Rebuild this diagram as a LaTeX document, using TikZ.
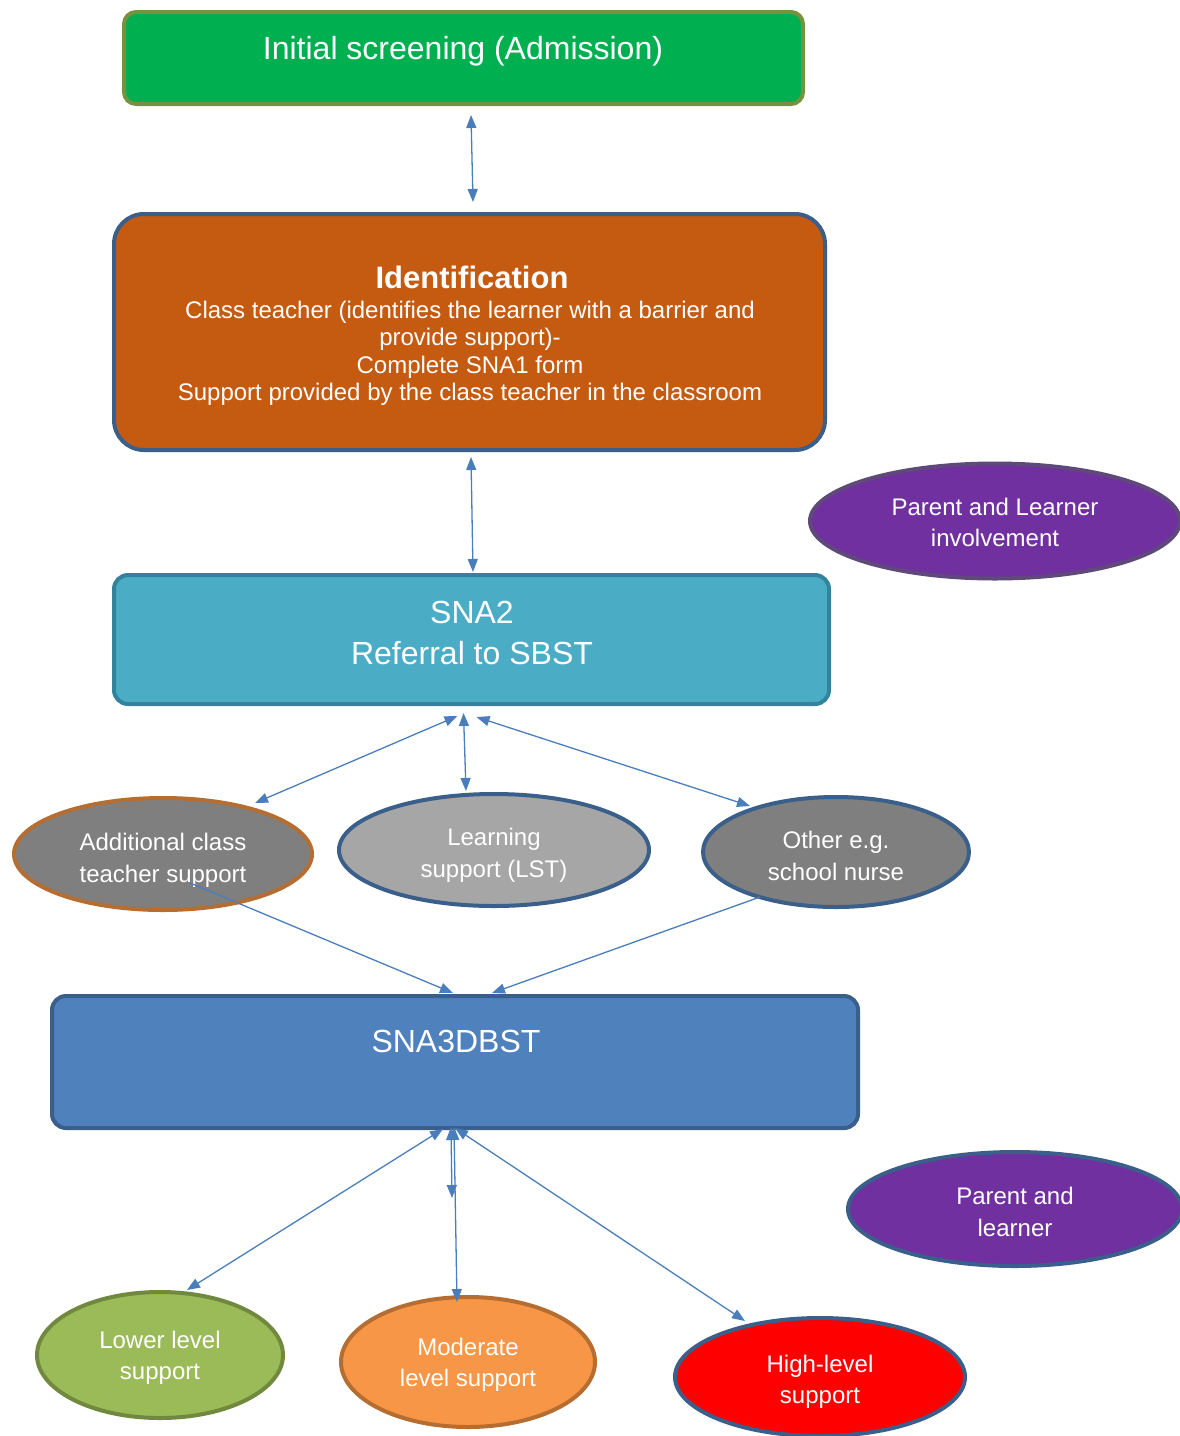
\documentclass[tikz,border=0pt]{standalone}
\usepackage{fontspec}
\setmainfont{Liberation Sans}
\usetikzlibrary{shapes.geometric,arrows.meta,calc}
\definecolor{grnfill}{HTML}{00B050}
\definecolor{grnline}{HTML}{76923C}
\definecolor{orfill}{HTML}{C55A11}
\definecolor{bluline}{HTML}{3A5F8B}
\definecolor{tealfill}{HTML}{4BACC6}
\definecolor{tealline}{HTML}{31849B}
\definecolor{sfill}{HTML}{4F81BD}
\definecolor{purfill}{HTML}{7030A0}
\definecolor{purline}{HTML}{5F497A}
\definecolor{grayfill}{HTML}{7F7F7F}
\definecolor{lgrayfill}{HTML}{A6A6A6}
\definecolor{brline}{HTML}{B66D31}
\definecolor{lowfill}{HTML}{9BBB59}
\definecolor{lowline}{HTML}{71893F}
\definecolor{modfill}{HTML}{F79646}
\definecolor{highfill}{HTML}{FF0000}
\definecolor{arrcol}{HTML}{4A7EBB}
\begin{document}
\begin{tikzpicture}[x=1pt,y=-1pt,
  box/.style={draw, line width=4pt, inner sep=0pt, rectangle},
  oval/.style={draw, ellipse, line width=4pt, inner sep=0pt},
  ovtxt/.style={text=white, inner sep=0pt, align=center, font=\fontsize{24}{31.5}\selectfont},
  txt/.style={text=white, inner sep=0pt, align=center},
  big/.style={font=\fontsize{32}{41}\selectfont},
  arr/.style={draw=arrcol, line width=1.3pt, {Triangle[length=13pt,width=10pt]}-{Triangle[length=13pt,width=10pt]}},
  arrone/.style={draw=arrcol, line width=1.3pt, -{Triangle[length=13pt,width=10pt]}}]
\useasboundingbox (0,0) rectangle (1180,1436);
% boxes
\node[box, fill=grnfill, draw=grnline, rounded corners=12pt, minimum width=679pt, minimum height=92pt] (green) at (463.5,58) {};
\node[txt, big] (tgreen) at (463,51) {Initial screening (Admission)};
\node[box, fill=orfill, draw=bluline, rounded corners=30pt, minimum width=711pt, minimum height=236pt] (ident) at (469.5,332) {};
\node[txt, font=\fontsize{31}{36}\bfseries\selectfont] (tident) at (472,277) {Identification};
\node[txt, font=\fontsize{24}{27.5}\selectfont] (tidentbody) at (470,353.5) {Class teacher (identifies the learner with a barrier and\\provide support)-\\Complete SNA1 form\\Support provided by the class teacher in the classroom};
\node[box, fill=tealfill, draw=tealline, rounded corners=14pt, minimum width=715pt, minimum height=129pt] (sna2) at (471.5,639.5) {};
\node[txt, big] (tsna2) at (472,632.5) {SNA2\\Referral to SBST};
\node[box, fill=sfill, draw=bluline, rounded corners=14pt, minimum width=806pt, minimum height=132pt] (sna3) at (455,1062) {};
\node[txt, big] (tsna3) at (456,1041) {SNA3DBST};
% ellipses
\node[oval, fill=purfill, draw=purline, minimum width=370pt, minimum height=115pt] (pl1) at (995,521) {};
\node[ovtxt] (tpl1) at ($(pl1.center)+(0,1.5)$) {Parent and Learner\\involvement};
\node[oval, fill=grayfill, draw=brline, minimum width=298pt, minimum height=112pt] (addl) at (163,854) {};
\node[ovtxt] (taddl) at ($(addl.center)+(0,6.5)$) {Additional class\\teacher support};
\node[oval, fill=lgrayfill, draw=bluline, minimum width=310pt, minimum height=112pt] (lst) at (494,850) {};
\node[ovtxt] (tlst) at ($(lst.center)+(0,5.5)$) {Learning\\support (LST)};
\node[oval, fill=grayfill, draw=bluline, minimum width=266pt, minimum height=110pt] (other) at (836,852) {};
\node[ovtxt] (tother) at ($(other.center)+(0,4)$) {Other e.g.\\school nurse};
\node[oval, fill=purfill, draw=bluline, minimum width=334pt, minimum height=114pt] (pl2) at (1015,1209) {};
\node[ovtxt] (tpl2) at ($(pl2.center)+(0,3)$) {Parent and\\learner};
\node[oval, fill=lowfill, draw=lowline, minimum width=246pt, minimum height=126pt] (low) at (160,1355) {};
\node[ovtxt] (tlow) at ($(low.center)+(0,3)$) {Lower level\\support};
\node[oval, fill=modfill, draw=brline, minimum width=254pt, minimum height=130pt] (mod) at (468,1362) {};
\node[ovtxt] (tmod) at ($(mod.center)+(0,3)$) {Moderate\\level support};
\node[oval, fill=highfill, draw=bluline, minimum width=290pt, minimum height=118pt] (high) at (820,1377) {};
\node[ovtxt] (thigh) at ($(high.center)+(0,5)$) {High-level\\support};
% connectors
\draw[arr] ($(green.south)+(7.5,9)$) -- ($(ident.north)+(3.5,-10)$);
\draw[arr] ($(ident.south)+(1.5,5)$) -- ($(sna2.north)+(1.5,-1)$);
\draw[arr] ($(sna2.south)+(-14,10)$) -- ($(addl.center)+(92,-51)$);
\draw[arr] ($(sna2.south)+(-8,7)$) -- ($(lst.north)+(-28,-1)$);
\draw[arr] ($(sna2.south)+(5,11)$) -- ($(other.center)+(-86,-46)$);
\draw[arrone] ($(addl.center)+(27,29)$) -- ($(sna3.north)+(-2,-1)$);
\draw[arrone] ($(other.center)+(-76,45)$) -- ($(sna3.north)+(37,-1)$);
\draw[arr] ($(sna3.south)+(-12,-1)$) -- ($(low.center)+(27,-65)$);
\draw[arr] ($(sna3.south)+(-4,-3)$) -- ($(sna3.south)+(-3,68)$);
\draw[arr] ($(sna3.south)+(-1,-3)$) -- ($(mod.center)+(-11,-60)$);
\draw[arr] ($(sna3.south)+(0,-2)$) -- ($(high.center)+(-75,-56)$);
\end{tikzpicture}
\end{document}
